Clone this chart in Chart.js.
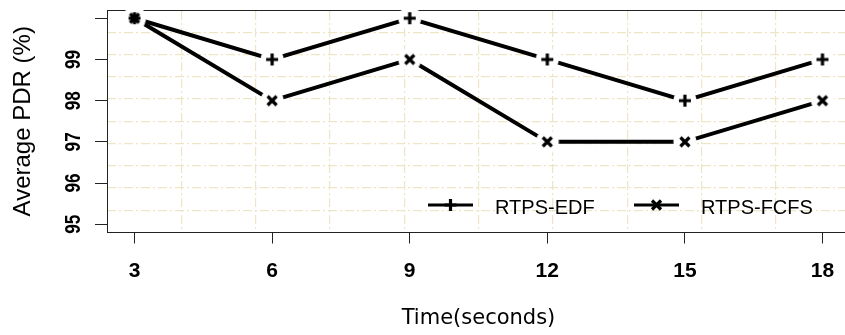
<!DOCTYPE html>
<html>
<head>
<meta charset="utf-8">
<script src="https://cdn.jsdelivr.net/npm/chart.js@4.4.1/dist/chart.umd.min.js"></script>
<style>
html, body { margin: 0; padding: 0; background: #fff; overflow: hidden; }
#wrap { width: 860px; height: 335px; }
</style>
</head>
<body>
<div id="wrap"><canvas id="chartCanvas" width="860" height="335"></canvas></div>
<script>
// data
const times = [3, 6, 9, 12, 15, 18];
const edfPdr = [100, 99, 100, 99, 98, 99];
const fcfsPdr = [100, 98, 99, 97, 97, 98];
const seriesNames = ['RTPS-EDF', 'RTPS-FCFS'];
const xTicks = [3, 6, 9, 12, 15, 18];
const yTicks = [95, 96, 97, 98, 99, 100];
const yTickLabels = ['95', '96', '97', '98', '99', ''];
const xRange = [2.4, 18.6];
const yRange = [94.8, 100.2];

const gridColor = '#eee5c6';
const boxColor = '#222';

// R-like grid(): 10 equal cells over the plot region
function gridValues(range) {
    const out = [];
    for (let k = 1; k < 10; k++) out.push({ value: range[0] + (range[1] - range[0]) * k / 10 });
    return out;
}

function drawGlyph(ctx, kind, cx, cy) {
    ctx.save();
    ctx.strokeStyle = '#000';
    ctx.lineWidth = 3.2;
    ctx.beginPath();
    if (kind === 'plus' || kind === 'star') {
        ctx.moveTo(cx - 6, cy); ctx.lineTo(cx + 6, cy);
        ctx.moveTo(cx, cy - 6); ctx.lineTo(cx, cy + 6);
    }
    if (kind === 'cross' || kind === 'star') {
        ctx.moveTo(cx - 4.5, cy - 4.5); ctx.lineTo(cx + 4.5, cy + 4.5);
        ctx.moveTo(cx + 4.5, cy - 4.5); ctx.lineTo(cx - 4.5, cy + 4.5);
    }
    ctx.stroke();
    ctx.restore();
}

// marker with a white halo so the line stops short of it (type="b")
function markerImage(kind) {
    const c = document.createElement('canvas');
    c.width = 28; c.height = 28;
    const g = c.getContext('2d');
    g.fillStyle = '#ffffff';
    g.beginPath(); g.arc(14, 14, 11.5, 0, Math.PI * 2); g.fill();
    drawGlyph(g, kind, 14, 14);
    return c;
}

const imgPlus = markerImage('plus');
const imgCross = markerImage('cross');
const imgStar = markerImage('star');
const legendMarks = ['plus', 'cross'];

const extras = {
    id: 'extras',
    afterDraw(chart) {
        const { ctx, chartArea, scales } = chart;
        ctx.save();
        // rotated y tick labels (squeezed bold face)
        ctx.fillStyle = '#000';
        ctx.font = "bold 22px 'Liberation Sans', Arial, sans-serif";
        ctx.textAlign = 'center';
        ctx.textBaseline = 'alphabetic';
        yTicks.forEach((v, i) => {
            if (!yTickLabels[i]) return;
            const py = scales.y.getPixelForValue(v);
            ctx.save();
            ctx.translate(chartArea.left - 27, py);
            ctx.rotate(-Math.PI / 2);
            ctx.scale(0.78, 1);
            ctx.fillText(yTickLabels[i], 0, 0);
            ctx.restore();
        });

        // legend inside the plot, bottom right
        const ly = chartArea.bottom - 27.5;
        chart.data.datasets.forEach((ds, i) => {
            const x0 = chartArea.left + 321 + i * 206;
            ctx.strokeStyle = '#000';
            ctx.lineWidth = 3;
            ctx.beginPath();
            ctx.moveTo(x0, ly); ctx.lineTo(x0 + 45, ly);
            ctx.stroke();
            drawGlyph(ctx, legendMarks[i], x0 + 22.5, ly);
            ctx.fillStyle = '#000';
            ctx.font = "20px 'Liberation Sans', Arial, sans-serif";
            ctx.textAlign = 'left';
            ctx.textBaseline = 'middle';
            ctx.fillText(ds.label, x0 + 67, ly + 3);
        });
        ctx.restore();
    }
};

const ctx = document.getElementById('chartCanvas');
window.myChart = new Chart(ctx, {
    type: 'line',
    data: {
        datasets: [{
            label: seriesNames[0],
            data: times.map((t, i) => ({ x: t, y: edfPdr[i] })),
            borderColor: '#000',
            backgroundColor: '#000',
            borderWidth: 4,
            tension: 0,
            fill: false,
            pointStyle: times.map((t, i) => edfPdr[i] === fcfsPdr[i] ? imgStar : imgPlus),
            pointRadius: 10,
            pointHoverRadius: 10,
            pointBorderWidth: 0
        }, {
            label: seriesNames[1],
            data: times.map((t, i) => ({ x: t, y: fcfsPdr[i] })),
            borderColor: '#000',
            backgroundColor: '#000',
            borderWidth: 4,
            tension: 0,
            fill: false,
            pointStyle: imgCross,
            pointRadius: 10,
            pointHoverRadius: 10,
            pointBorderWidth: 0
        }]
    },
    options: {
        responsive: false,
        animation: false,
        events: [],
        layout: { padding: { left: 0, top: 6, right: 6.3, bottom: 0 } },
        plugins: { legend: { display: false }, tooltip: { enabled: false } },
        scales: {
            x: {
                type: 'linear', position: 'bottom', min: xRange[0], max: xRange[1],
                afterBuildTicks: s => { s.ticks = xTicks.map(v => ({ value: v })); },
                afterFit: s => { s.height = 102.5; },
                grid: { drawOnChartArea: false, drawTicks: true, tickLength: 11, color: boxColor, lineWidth: 1 },
                border: { display: true, color: boxColor, width: 1 },
                ticks: { color: '#000', font: { family: "'Liberation Sans', Arial, sans-serif", size: 21, weight: 'bold' }, padding: 15, maxRotation: 0, autoSkip: false, callback: v => String(v) },
                title: { display: true, text: 'Time(seconds)', color: '#000', font: { family: "'DejaVu Sans', sans-serif", size: 21 }, padding: { top: 0, bottom: 4 } }
            },
            y: {
                type: 'linear', position: 'left', min: yRange[0], max: yRange[1],
                afterBuildTicks: s => { s.ticks = yTicks.map(v => ({ value: v })); },
                afterFit: s => { s.width = 107; },
                grid: { drawOnChartArea: false, drawTicks: true, tickLength: 12, color: boxColor, lineWidth: 1 },
                border: { display: true, color: boxColor, width: 1 },
                ticks: { display: false },
                title: { display: true, text: 'Average PDR (%)', color: '#000', font: { family: "'Liberation Sans', Arial, sans-serif", size: 24 }, padding: { top: 9, bottom: 0 } }
            },
            gx: {
                type: 'linear', position: 'top', min: xRange[0], max: xRange[1],
                afterBuildTicks: s => { s.ticks = gridValues(xRange); },
                afterFit: s => { s.height = 0; },
                ticks: { display: false },
                grid: { drawTicks: false, color: gridColor, lineWidth: 1.2 },
                border: { display: true, color: boxColor, width: 1, dash: [9, 3, 2, 3] }
            },
            gy: {
                type: 'linear', position: 'right', min: yRange[0], max: yRange[1],
                afterBuildTicks: s => { s.ticks = gridValues(yRange); },
                afterFit: s => { s.width = 0; },
                ticks: { display: false },
                grid: { drawTicks: false, color: gridColor, lineWidth: 1.2 },
                border: { display: true, color: boxColor, width: 1, dash: [9, 3, 2, 3] }
            }
        }
    },
    plugins: [extras]
});
</script>
</body>
</html>
